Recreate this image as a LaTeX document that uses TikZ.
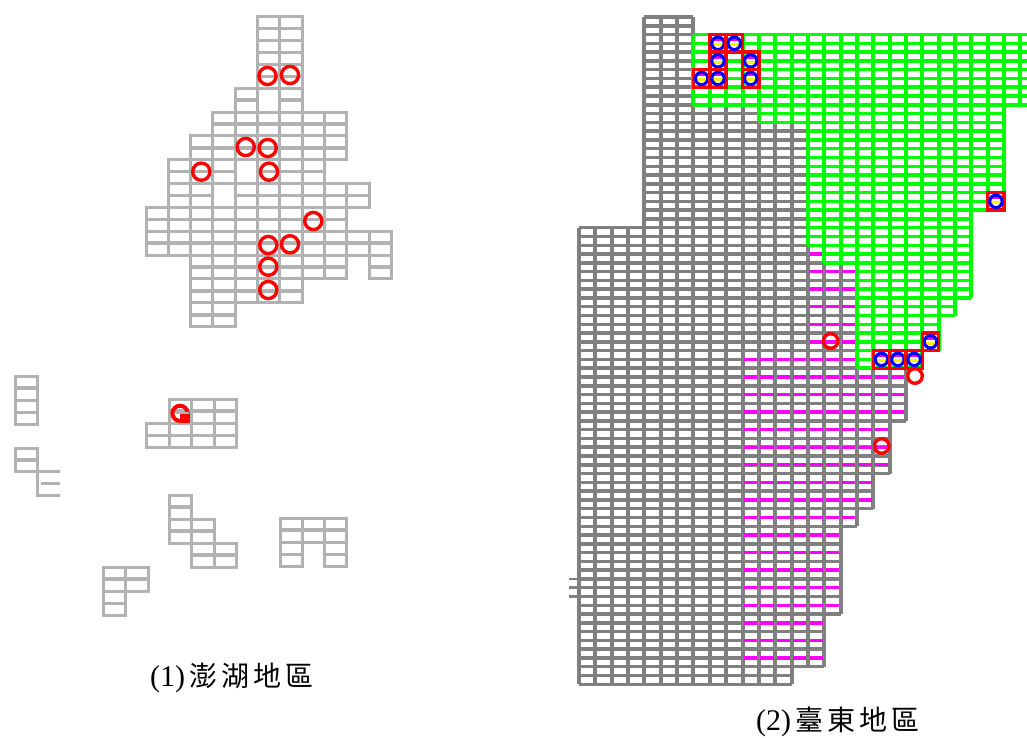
\documentclass[tikz,border=0pt]{standalone}
\usepackage{fontspec}
\setmainfont{Liberation Serif}
\newfontfamily\cjkfont{Noto Sans CJK TC}
\definecolor{lightgrid}{HTML}{B2B2B2}
\definecolor{darkgrid}{HTML}{808080}
\definecolor{greengrid}{HTML}{00FF00}
\definecolor{magline}{HTML}{FF00FF}
\tikzset{
  lh/.style={draw=lightgrid,line width=3pt,line cap=square},
  lm/.style={draw=lightgrid,line width=3.6pt},
  mapcirc/.style={draw=red,line width=3.4pt,fill=none},
  bluecirc/.style={draw=blue,line width=2.5pt,fill=white},
  redcell/.style={draw=red,line width=3.4pt},
  magbar/.style={draw=magline,line width=3.4pt},
  captext/.style={anchor=base west,inner sep=0pt,font=\fontsize{30}{34}\selectfont},
}
% one cell of the light map (column, row), two sub-rows high
\newcommand\lcell[2]{\draw[lh] (#1,{2*(#2)}) rectangle ({#1+1},{2*(#2)+2}); \draw[lm] (#1,{2*(#2)+1}) -- ({#1+1},{2*(#2)+1});}
\newcommand\lcellnm[2]{\draw[lh] (#1,{2*(#2)}) rectangle ({#1+1},{2*(#2)+2});}
% block of the fine grid: style, first col, end col, first row, last row
\newcommand\gridblock[5]{%
  \pgfmathtruncatemacro\jA{2*(#4)}\pgfmathtruncatemacro\jB{2*(#5)+2}%
  \foreach \j in {\jA,...,\jB}{\draw[#1,line width=3.5pt] (#2,\j) -- (#3,\j);}%
  \foreach \c in {#2,...,#3}{\draw[#1,line width=4pt] (\c,\jA) -- (\c,\jB);}%
}
\newcommand\bluemark[2]{%
  \draw[redcell] (#1,{2*(#2)}) rectangle ({#1+1},{2*(#2)+2});
  \filldraw[bluecirc] ({#1+.5},{2*(#2)+1}) circle[radius=6.2pt];
  \draw[magline,line width=2.6pt] ({#1+.25},{2*(#2)+.6}) -- ({#1+.75},{2*(#2)+.6});
  \draw[yellow,line width=3pt] ({#1+.2},{2*(#2)+1.15}) -- ({#1+.8},{2*(#2)+1.15});
  \draw[draw=blue,line width=3pt] ({#1+.5},{2*(#2)+1}) circle[radius=6.2pt];
}
\begin{document}
\begin{tikzpicture}[x=1pt,y=-1pt]
\useasboundingbox (0,0) rectangle (1027,737);

% ---------- (1) upper map
\begin{scope}[shift={(146pt,-16.7pt)},x=22.3pt,y=-11.92pt]
  \foreach \r/\a/\b in {0/5/6,1/5/6,2/5/6,3/4/4,3/6/6,4/3/8,5/2/8,6/1/3,6/5/7,7/1/2,7/4/9,8/0/8,9/0/10,10/2/8,11/2/6,12/2/3}
    {\foreach \c in {\a,...,\b}{\lcell{\c}{\r}}}
  \lcellnm{5}{3}\lcellnm{4}{6}\lcellnm{3}{7}
  \lcell{10}{10}
\end{scope}
% lower groups
\begin{scope}[shift={(15pt,-376pt)},x=22.5pt,y=-12.15pt]
  \lcell{0}{0}\lcell{0}{1}
\end{scope}
\begin{scope}[shift={(15pt,-448pt)},x=22.5pt,y=-11.8pt]
  \lcell{0}{0}
  \draw[lh] (2,2) -- (1,2) -- (1,4) -- (2,4);
  \draw[lm] (1.15,3) -- (2,3);
\end{scope}
\begin{scope}[shift={(146.5pt,-399pt)},x=22.5pt,y=-12.15pt]
  \foreach \c in {1,2,3}{\lcell{\c}{0}}
  \foreach \c in {0,1,2,3}{\lcell{\c}{1}}
\end{scope}
\begin{scope}[shift={(169pt,-495pt)},x=22.5pt,y=-12pt]
  \lcell{0}{0}\lcell{0}{1}\lcell{1}{1}\lcell{1}{2}\lcell{2}{2}
\end{scope}
\begin{scope}[shift={(280pt,-518pt)},x=22.3pt,y=-12.2pt]
  \lcell{0}{0}\lcell{1}{0}\lcell{2}{0}\lcell{0}{1}\lcell{2}{1}
\end{scope}
\begin{scope}[shift={(103pt,-567pt)},x=22.5pt,y=-12.2pt]
  \lcell{0}{0}\lcell{1}{0}\lcell{0}{1}
\end{scope}
% red circles (1)
\foreach \x/\y in {267.5/76,290/75,245.7/147,267.7/148,269/171.7,201.3/171.7,313.3/221,268.3/245,290/244.3,268.3/266.7,268.3/290}
  {\draw[mapcirc] (\x,\y) circle[radius=8.6pt];}
\draw[mapcirc,line width=4pt] (180,413.3) circle[radius=7.6pt];
\fill[red] (180,413.3) rectangle (189.5,423);
\draw[lightgrid,line width=2.6pt] (176,413) -- (189,413);

% ---------- (2) right map
\begin{scope}[shift={(579pt,-17pt)},x=16.35pt,y=-8.78pt]
  \tikzset{gg/.style={draw=darkgrid},gr/.style={draw=greengrid,line cap=square}}
  \draw[draw=darkgrid,line width=2.6pt] (-.6,64) -- (0,64) (-.6,65) -- (0,65) (-.6,66) -- (0,66);
  \gridblock{gg}{4}{7}{0}{4}
  \gridblock{gg}{4}{11}{5}{5}
  \gridblock{gg}{4}{14}{6}{11}
  \gridblock{gg}{0}{14}{12}{12}
  \gridblock{gg}{0}{15}{13}{13}
  \gridblock{gg}{0}{17}{14}{19}
  \gridblock{gg}{0}{20}{20}{22}
  \gridblock{gg}{0}{19}{23}{25}
  \gridblock{gg}{0}{18}{26}{27}
  \gridblock{gg}{0}{17}{28}{28}
  \gridblock{gg}{0}{16}{29}{33}
  \gridblock{gg}{0}{15}{34}{36}
  \gridblock{gg}{0}{13}{37}{37}
  % magenta mid lines
  \foreach \r/\a/\b in {13/14/14,14/14/16,15/14/16,16/14/16,17/14/16,18/14/16,19/10/16,20/10/19,21/10/19,22/10/19,23/10/18,24/10/18,25/10/18,26/10/17,27/10/17,28/10/16,29/10/15,30/10/15,31/10/15,32/10/15,33/10/15,34/10/14,35/10/14,36/10/14}
    {\foreach \c in {\a,...,\b}{\draw[magbar] ({\c+.1},{2*\r+1}) -- ({\c+.9},{2*\r+1});}}
  % green area
  \begin{scope}
    \clip (-40,-10) rectangle ({(1027-579)/16.35},100);
    \gridblock{gr}{7}{28}{1}{4}
  \end{scope}
  \gridblock{gr}{11}{26}{5}{5}
  \gridblock{gr}{14}{26}{6}{10}
  \gridblock{gr}{14}{24}{11}{12}
  \gridblock{gr}{15}{24}{13}{13}
  \gridblock{gr}{17}{24}{14}{15}
  \gridblock{gr}{17}{23}{16}{16}
  \gridblock{gr}{17}{22}{17}{18}
  \gridblock{gr}{17}{21}{19}{19}
  % marked cells
  \bluemark{8}{1}\bluemark{9}{1}\bluemark{8}{2}\bluemark{10}{2}
  \bluemark{7}{3}\bluemark{8}{3}\bluemark{10}{3}
  \bluemark{25}{10}\bluemark{21}{18}
  \bluemark{18}{19}\bluemark{19}{19}\bluemark{20}{19}
\end{scope}
\foreach \x/\y in {830.7/341,915/376,881.7/446}
  {\draw[mapcirc] (\x,\y) circle[radius=7.3pt];}

% ---------- captions
\node[captext] (capa) at (150,686) {(1)\cjkfont\fontsize{28}{32}\selectfont\kern4pt 澎\kern4pt 湖\kern4pt 地\kern4pt 區};
\node[captext] (capb) at (756,730) {(2)\cjkfont\fontsize{28}{32}\selectfont\kern4pt 臺\kern4pt 東\kern4pt 地\kern4pt 區};
\end{tikzpicture}
\end{document}
